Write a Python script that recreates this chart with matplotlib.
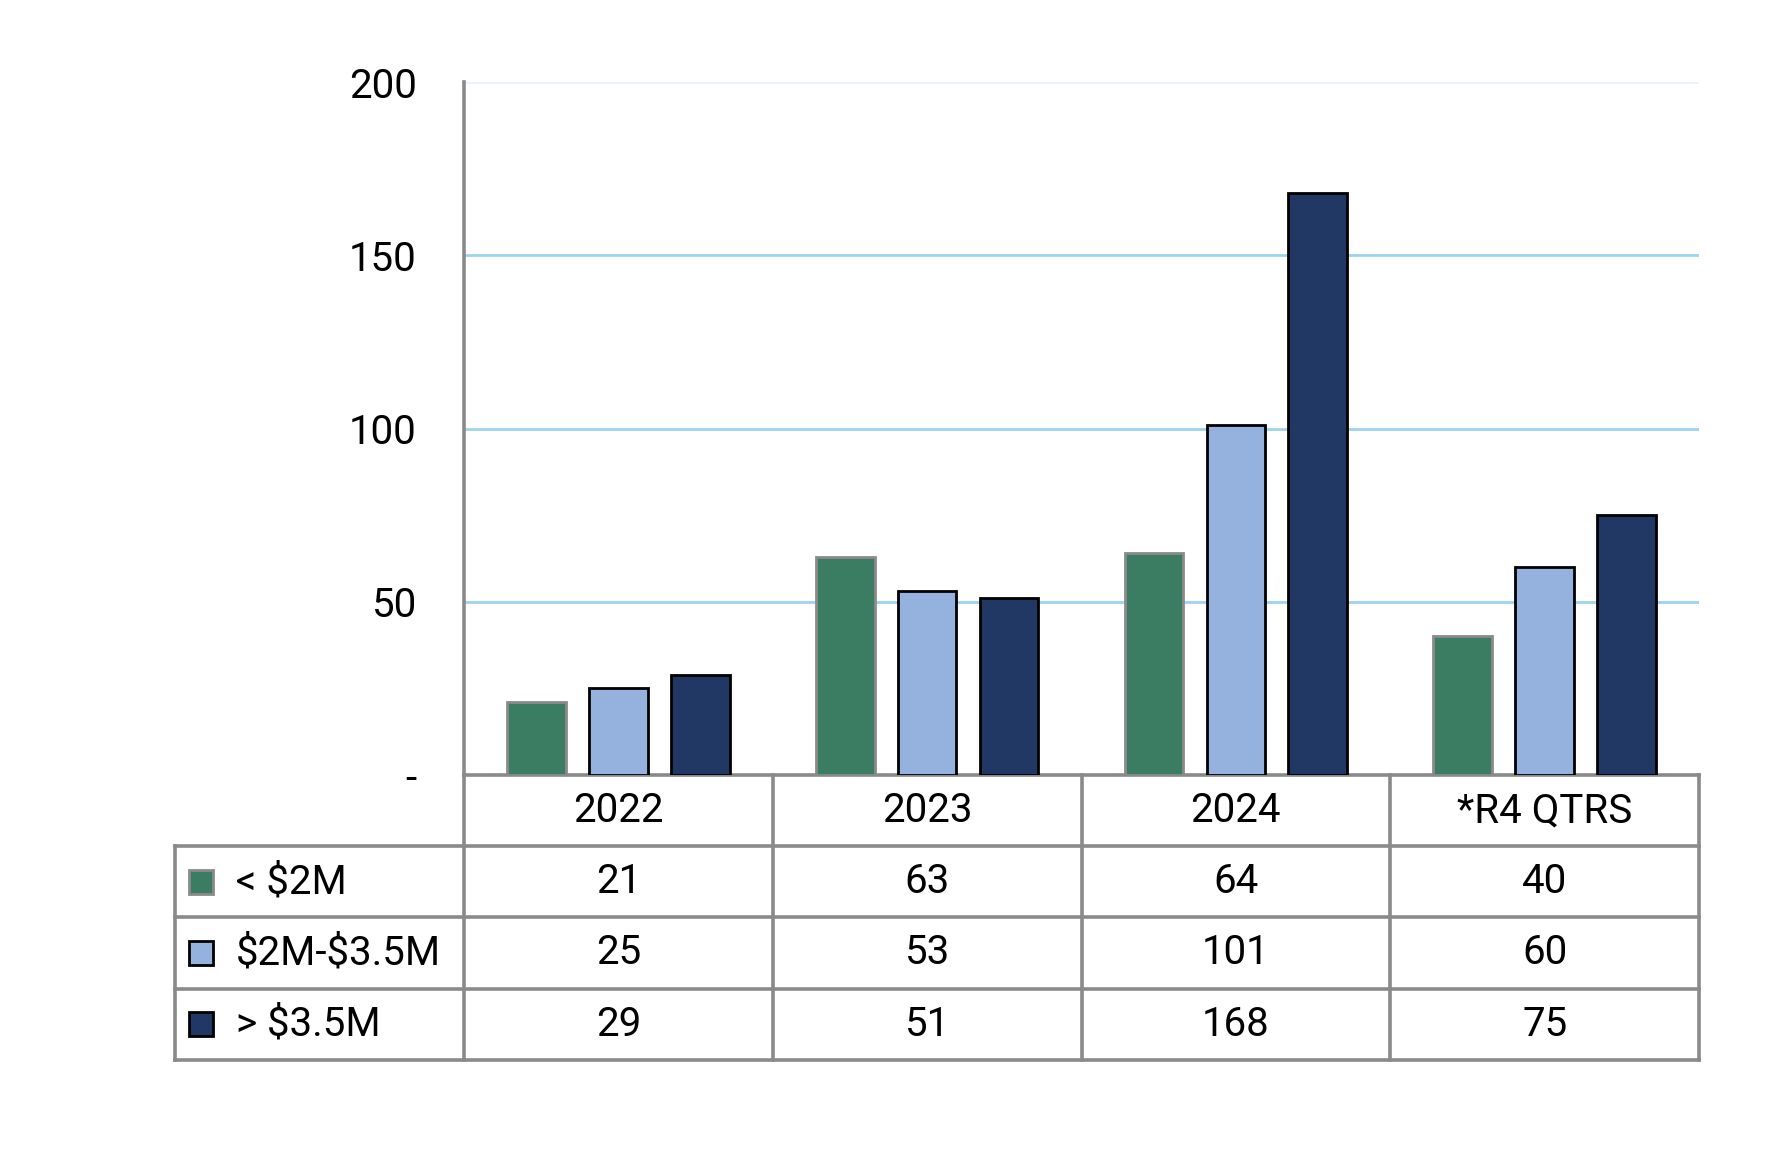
import matplotlib.pyplot as plt
import numpy as np

categories = ["2022", "2023", "2024", "*R4 QTRS"]
series_names = ["< $2M", "$2M-$3.5M", "> $3.5M"]
under_2m = [21, 63, 64, 40]
mid_2m_35m = [25, 53, 101, 60]
over_35m = [29, 51, 168, 75]
y_ticks = [0, 50, 100, 150, 200]
y_tick_labels = ["-", "50", "100", "150", "200"]

series = [under_2m, mid_2m_35m, over_35m]
colors = ["#3b7d62", "#95b1dd", "#213865"]
edges = ["#8a8a8a", "#000000", "#000000"]
grid_col = "#9dd3ec"
line_col = "#8a8a8a"

plt.rcParams["font.family"] = ["Roboto", "DejaVu Sans"]
plt.rcParams["text.parse_math"] = False
fs = 29

fig = plt.figure(figsize=(17.87, 11.55), dpi=100)
ax = fig.add_axes([464 / 1787, 1 - 775 / 1155, (1699 - 464) / 1787, (775 - 82) / 1155])

x = np.arange(len(categories))
bw = 0.19
step = 0.265
for i, vals in enumerate(series):
    ax.bar(x + (i - 1) * step, vals, width=bw, color=colors[i],
           edgecolor=edges[i], linewidth=2, zorder=3)

ax.set_xlim(-0.5, 3.5)
ax.set_ylim(0, 200)
for v in [50, 100, 150]:
    ax.axhline(v, color=grid_col, lw=2, zorder=1)
ax.axhline(200, color="#eaf5fa", lw=2, zorder=1)

ax.set_yticks(y_ticks)
ax.set_yticklabels(y_tick_labels, fontsize=fs)
ax.tick_params(axis="y", length=0, pad=34)
ax.set_xticks([])
for s in ["top", "right", "bottom"]:
    ax.spines[s].set_visible(False)
ax.spines["left"].set_color(line_col)
ax.spines["left"].set_linewidth(2.6)

# table below the plot
tr = ax.get_xaxis_transform()
rh = 0.1027
nrows = 1 + len(series)
bottom = -rh * nrows
leg_left = -1.435
lk = dict(color=line_col, lw=2.6, clip_on=False, transform=tr, solid_capstyle="projecting")

ax.plot([-0.5, 3.5], [0, 0], **lk)
for k in range(1, nrows + 1):
    ax.plot([leg_left, 3.5], [-rh * k, -rh * k], **lk)
for b in np.arange(-0.5, 3.6, 1.0):
    ax.plot([b, b], [0, bottom], **lk)
ax.plot([leg_left, leg_left], [-rh, bottom], **lk)

for j, c in enumerate(categories):
    ax.text(j, -rh * 0.5, c, transform=tr, ha="center", va="center", fontsize=fs)

for i, vals in enumerate(series):
    yc = -rh * (i + 1.5)
    for j, v in enumerate(vals):
        ax.text(j, yc, str(v), transform=tr, ha="center", va="center", fontsize=fs)
    # legend key
    ax.add_patch(plt.Rectangle((leg_left + 0.045, yc - 0.0175), 0.076, 0.035,
                               transform=tr, facecolor=colors[i], edgecolor=edges[i],
                               lw=2, clip_on=False))
    ax.text(leg_left + 0.195, yc, series_names[i], transform=tr, ha="left",
            va="center", fontsize=fs)

fig.savefig("out.png", dpi=100)
